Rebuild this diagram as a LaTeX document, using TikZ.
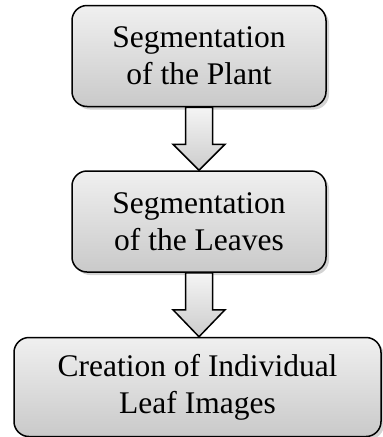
\documentclass[tikz,border=0pt]{standalone}
\usepackage{fontspec}
\setmainfont{Liberation Serif}
\usepackage{tikz}
\usetikzlibrary{shapes,arrows,positioning,calc,shadows}

\begin{document}
\begin{tikzpicture}[
    x=1pt, y=1pt,
    box/.style={draw, line width=1.5pt, rectangle, rounded corners=15pt, align=center,
        top color=gray!12, bottom color=gray!42,
        drop shadow={shadow xshift=3pt, shadow yshift=-3pt, opacity=0.35},
        font=\fontsize{31.5}{37}\selectfont, minimum width=254pt, minimum height=101pt},
    blockarrow/.style={draw, line width=1.5pt, top color=gray!8, bottom color=gray!40}
]
    \useasboundingbox (0,0) rectangle (383,-437);

    \node[box] (plant) at (199,-56) {Segmentation\\of the Plant};
    \node[box, below=63pt of plant] (leaves) {Segmentation\\of the Leaves};
    \node[box, below=64pt of leaves, xshift=-1.5pt, minimum width=367pt, minimum height=99pt] (images) {Creation of Individual\\Leaf Images};

    % block arrows between the boxes
    \foreach \a/\b in {plant/leaves, leaves/images}
        \draw[blockarrow] ($(\a.south)+(-13.5,0)$) -- ++(0,-37) -- ++(-12.5,0)
            -- (\a.south |- \b.north) -- ($(\a.south)+(26,-37)$) -- ++(-12.5,0)
            -- ($(\a.south)+(13.5,0)$) -- cycle;
\end{tikzpicture}
\end{document}
